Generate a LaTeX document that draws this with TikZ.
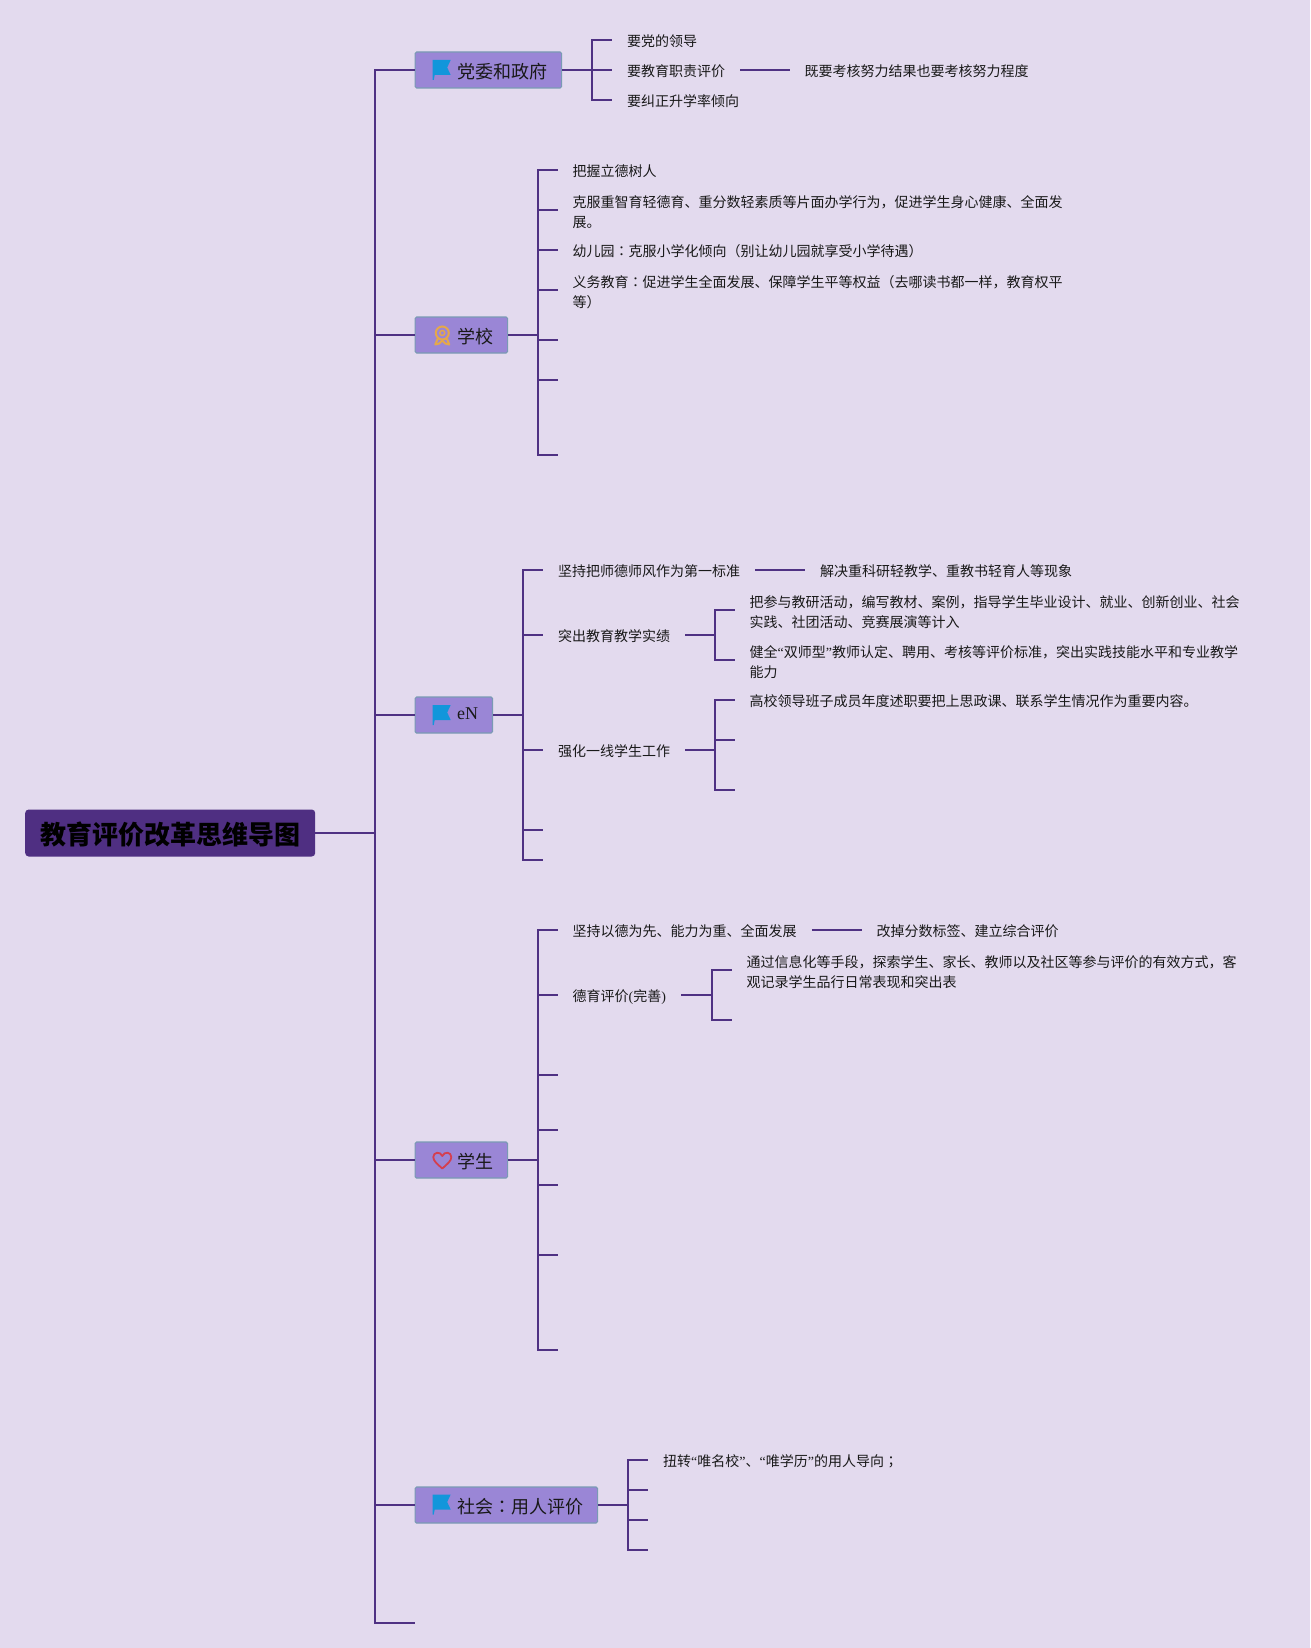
\documentclass[tikz,border=0pt]{standalone}
\usepackage{fontspec}
\setmainfont{Noto Sans CJK SC}
\newfontfamily\latinfont{Liberation Serif}
\newfontfamily\tcfont{Noto Sans CJK TC}
\newcommand{\lat}[1]{{\latinfont #1}}
\newcommand{\alt}[1]{{\tcfont #1}}
\definecolor{pagebg}{HTML}{E3DAEE}
\definecolor{linecol}{HTML}{4F3183}
\definecolor{rootfill}{HTML}{4F2F82}
\definecolor{topicfill}{HTML}{9A86D6}
\definecolor{topicedge}{HTML}{7A9AB4}
\definecolor{flagblue}{HTML}{1296DB}
\definecolor{medalcol}{HTML}{E5A84B}
\definecolor{heartcol}{HTML}{D43F4F}
\tikzset{
    link/.style={draw=linecol, line width=2pt},
    rootbox/.style={fill=rootfill, rounded corners=3.5pt, anchor=west, inner xsep=0pt, minimum width=290pt, minimum height=47pt,
        font=\fontsize{26}{30}\selectfont\bfseries, text=black,
        execute at begin node={\rule[-2.2pt]{0pt}{28.2pt}}},
    topicbox/.style={fill=topicfill, draw=topicedge, line width=1.2pt, rounded corners=1.5pt, anchor=west, inner xsep=0pt, minimum height=36pt,
        font=\fontsize{18}{22}\selectfont, text=black!90,
        execute at begin node={\rule[-2.3pt]{0pt}{22.3pt}\hspace*{42pt}},
        execute at end node={\hspace*{14.5pt}}},
    leaf/.style={anchor=west, align=left, inner xsep=15pt, inner ysep=0pt,
        font=\fontsize{14}{20}\selectfont, text=black!90,
        execute at begin node={\rule[-2pt]{0pt}{17.6pt}}},
    leaftwo/.style={leaf,
        execute at begin node={\rule[-2pt]{0pt}{38.9pt}}},
    flagicon/.pic={
        \fill[flagblue] (0,0) -- (18,0) -- (14.5,7.5) -- (18,15) -- (2,15) -- (1,20) -- (0,20) -- cycle;
    },
    medalicon/.pic={
        \draw[medalcol, line width=2pt] (0,0) circle (6.5);
        \draw[medalcol, line width=1.4pt] (0,0) circle (2.5);
        \draw[medalcol, line width=2pt, line join=round] (-4.5,5.5) -- (-7,11.5) -- (-3,10.5) -- (0,7.5) -- (3,10.5) -- (7,11.5) -- (4.5,5.5);
    },
    hearticon/.pic={
        \draw[heartcol, line width=1.8pt, line join=round] (0,8.5)
            .. controls (-5,4) and (-9,1) .. (-9,-3)
            .. controls (-9,-8) and (-2,-9) .. (0,-4)
            .. controls (2,-9) and (9,-8) .. (9,-3)
            .. controls (9,1) and (5,4) .. (0,8.5) -- cycle;
    },
}
\begin{document}
\begin{tikzpicture}[x=1pt, y=-1pt]
    \useasboundingbox[fill=pagebg] (0,0) rectangle (1310,1648);

    % Root and main topics
    \node[rootbox] (root) at (25,833) {教育评价改革思维导图};
    \node[topicbox] (party) at (414.5,70) {党委和政府};
    \node[topicbox] (school) at (414.5,335) {学校};
    \node[topicbox] (teacher) at (414.5,715) {\raisebox{3.9pt}{\lat{eN}}};
    \node[topicbox] (student) at (414.5,1160) {学生};
    \node[topicbox] (society) at (414.5,1505) {社会\alt{：}用人评价};
    \coordinate (lastend) at (414.5,1623);

    % Icons
    \pic at (432.7,60) {flagicon};
    \pic at (442.3,333) {medalicon};
    \pic at (442.3,1160) {hearticon};
    \pic at (432.7,705) {flagicon};
    \pic at (432.7,1494.5) {flagicon};

    % Spine
    \draw[link] (root.east) -- (374.5,833) |- (party.west);
    \draw[link] (374.5,833) |- (school.west);
    \draw[link] (374.5,833) |- (teacher.west);
    \draw[link] (374.5,833) |- (student.west);
    \draw[link] (374.5,833) |- (society.west);
    \draw[link] (374.5,833) |- (lastend);

    % Party
    \node[leaf] (p1) at (612,40) {要党的领导};
    \node[leaf] (p2) at (612,70) {要教育职责评价};
    \node[leaf] (p3) at (612,100) {要纠正升学率倾向};
    \node[leaf] (p2a) at (789.5,70) {既要考核努力结果也要考核努力程度};
    \draw[link] (party.east) -- (p2.west);
    \draw[link] (591.5,70) |- (p1.west);
    \draw[link] (591.5,70) |- (p3.west);
    \draw[link] (p2.east) -- (p2a.west);

    % School
    \node[leaf] (s1) at (557.5,170) {把握立德树人};
    \node[leaftwo] (s2) at (557.5,210) {克服重智育轻德育、重分数轻素质等片面办学行为，促进学生身心健康、全面发\\展。};
    \node[leaf] (s3) at (557.5,250) {幼儿园\alt{：}克服小学化倾向（别让幼儿园就享受小学待遇）};
    \node[leaftwo] (s4) at (557.5,290) {义务教育\alt{：}促进学生全面发展、保障学生平等权益（去哪读书都一样，教育权平\\等）};
    \coordinate (s5) at (557.5,340);
    \coordinate (s6) at (557.5,380);
    \coordinate (s7) at (557.5,455);
    \draw[link] (school.east) -- (538,335) |- (s1.west);
    \draw[link] (538,335) |- (s2.west);
    \draw[link] (538,335) |- (s3.west);
    \draw[link] (538,335) |- (s4.west);
    \draw[link] (538,335) |- (s5);
    \draw[link] (538,335) |- (s6);
    \draw[link] (538,335) |- (s7);

    % Teacher
    \node[leaf] (t1) at (543,570) {坚持把师德师风作为第一标准};
    \node[leaf] (t2) at (543,635) {突出教育教学实绩};
    \node[leaf] (t3) at (543,750) {强化一线学生工作};
    \coordinate (t4) at (543,830);
    \coordinate (t5) at (543,860);
    \node[leaf] (t1a) at (805,570) {解决重科研轻教学、重教书轻育人等现象};
    \node[leaftwo] (t2a) at (734.5,610) {把参与教研活动，编写教材、案例，指导学生毕业设计、就业、创新创业、社会\\实践、社团活动、竞赛展演等计入};
    \node[leaftwo] (t2b) at (734.5,660) {健全\lat{“}双师型\lat{”}教师认定、聘用、考核等评价标准，突出实践技能水平和专业教学\\能力};
    \node[leaf] (t3a) at (734.5,700) {高校领导班子成员年度述职要把上思政课、联系学生情况作为重要内容。};
    \coordinate (t3b) at (734.5,740);
    \coordinate (t3c) at (734.5,790);
    \draw[link] (teacher.east) -- (522.5,715) |- (t1.west);
    \draw[link] (522.5,715) |- (t2.west);
    \draw[link] (522.5,715) |- (t3.west);
    \draw[link] (522.5,715) |- (t4);
    \draw[link] (522.5,715) |- (t5);
    \draw[link] (t1.east) -- (t1a.west);
    \draw[link] (t2.east) -- (714.5,635) |- (t2a.west);
    \draw[link] (714.5,635) |- (t2b.west);
    \draw[link] (t3.east) -- (714.5,750) |- (t3a.west);
    \draw[link] (714.5,750) |- (t3b);
    \draw[link] (714.5,750) |- (t3c);

    % Student
    \node[leaf] (u1) at (557.5,930) {坚持以德为先、能力为重、全面发展};
    \node[leaf] (u2) at (557.5,995) {德育评价\lat{(}完善\lat{)}};
    \coordinate (u3) at (557.5,1075);
    \coordinate (u4) at (557.5,1130);
    \coordinate (u5) at (557.5,1185);
    \coordinate (u6) at (557.5,1255);
    \coordinate (u7) at (557.5,1350);
    \node[leaf] (u1a) at (861.5,930) {改掉分数标签、建立综合评价};
    \node[leaftwo] (u2a) at (731.5,970) {通过信息化等手段，探索学生、家长、教师以及社区等参与评价的有效方式，客\\观记录学生品行日常表现和突出表};
    \coordinate (u2b) at (731.5,1020);
    \draw[link] (student.east) -- (538,1160) |- (u1.west);
    \draw[link] (538,1160) |- (u2.west);
    \draw[link] (538,1160) |- (u3);
    \draw[link] (538,1160) |- (u4);
    \draw[link] (538,1160) |- (u5);
    \draw[link] (538,1160) |- (u6);
    \draw[link] (538,1160) |- (u7);
    \draw[link] (u1.east) -- (u1a.west);
    \draw[link] (u2.east) -- (711.5,995) |- (u2a.west);
    \draw[link] (711.5,995) |- (u2b);

    % Society
    \node[leaf] (c1) at (648,1460) {扭转\lat{“}唯名校\lat{”}、\lat{“}唯学历\lat{”}的用人导向\alt{；}};
    \coordinate (c2) at (648,1490);
    \coordinate (c3) at (648,1520);
    \coordinate (c4) at (648,1550);
    \draw[link] (society.east) -- (627.5,1505) |- (c1.west);
    \draw[link] (627.5,1505) |- (c2);
    \draw[link] (627.5,1505) |- (c3);
    \draw[link] (627.5,1505) |- (c4);
\end{tikzpicture}
\end{document}
